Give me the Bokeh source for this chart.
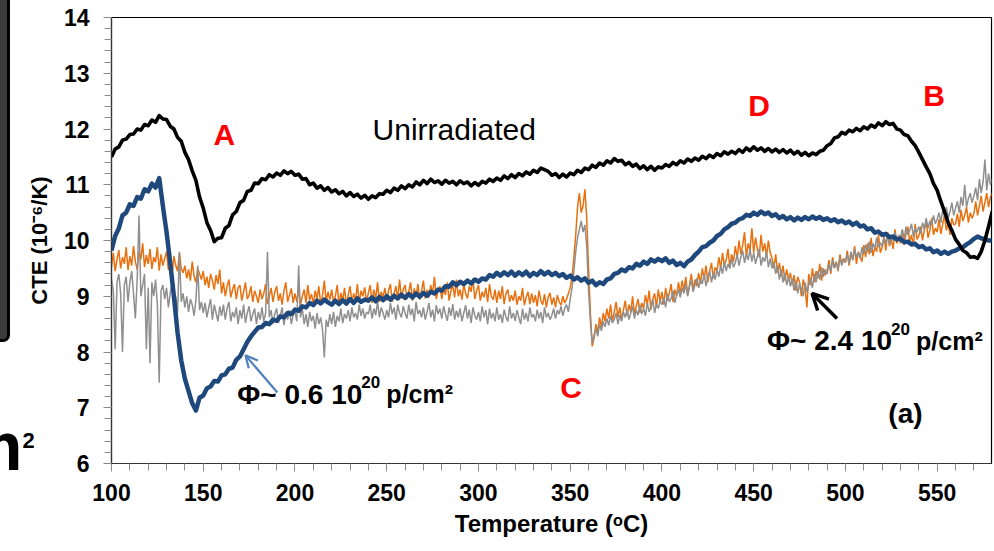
from bokeh.plotting import figure
from bokeh.layouts import row
from bokeh.models import (Range1d, SingleIntervalTicker, Label, Arrow, OpenHead,
                          ColumnDataSource, Div)
from bokeh.embed import file_html
from bokeh.resources import INLINE

# ---------------- data ----------------
temperature_2 = list(range(100, 581, 2))   # °C, 2-degree sampling (black, blue)
temperature_1 = list(range(100, 581, 1))   # °C, 1-degree sampling (orange, gray)

unirradiated = [
    11.50, 11.64, 11.68, 11.80, 11.82, 11.90, 11.91, 12.00, 11.98, 12.08,
    12.06, 12.16, 12.12, 12.24, 12.18, 12.17, 12.05, 12.00, 11.85, 11.78,
    11.58, 11.45, 11.25, 11.08, 10.78, 10.58, 10.32, 10.18, 9.98, 10.04,
    10.05, 10.22, 10.27, 10.46, 10.52, 10.68, 10.72, 10.88, 10.90, 11.03,
    11.02, 11.11, 11.09, 11.18, 11.14, 11.21, 11.17, 11.25, 11.20, 11.24,
    11.17, 11.19, 11.10, 11.11, 11.00, 11.03, 10.94, 10.98, 10.90, 10.95,
    10.87, 10.91, 10.84, 10.88, 10.80, 10.86, 10.79, 10.83, 10.76, 10.81,
    10.74, 10.80, 10.77, 10.84, 10.83, 10.90, 10.86, 10.94, 10.90, 10.98,
    10.93, 11.00, 10.96, 11.05, 11.00, 11.08, 11.02, 11.10, 11.04, 11.07,
    11.01, 11.08, 11.03, 11.06, 11.00, 11.07, 11.02, 11.05, 10.98, 11.04,
    10.99, 11.06, 11.03, 11.10, 11.06, 11.12, 11.08, 11.16, 11.11, 11.18,
    11.13, 11.20, 11.16, 11.23, 11.19, 11.26, 11.22, 11.30, 11.27, 11.24,
    11.17, 11.20, 11.13, 11.19, 11.14, 11.21, 11.18, 11.26, 11.22, 11.30,
    11.27, 11.35, 11.31, 11.39, 11.35, 11.43, 11.39, 11.47, 11.42, 11.44,
    11.36, 11.40, 11.33, 11.37, 11.29, 11.34, 11.27, 11.33, 11.26, 11.32,
    11.30, 11.36, 11.33, 11.40, 11.36, 11.43, 11.39, 11.46, 11.42, 11.48,
    11.44, 11.51, 11.47, 11.53, 11.49, 11.56, 11.52, 11.59, 11.55, 11.60,
    11.56, 11.63, 11.58, 11.66, 11.61, 11.68, 11.62, 11.66, 11.60, 11.65,
    11.59, 11.64, 11.58, 11.63, 11.57, 11.62, 11.55, 11.60, 11.53, 11.58,
    11.52, 11.57, 11.54, 11.60, 11.62, 11.70, 11.74, 11.84, 11.86, 11.94,
    11.91, 11.98, 11.95, 12.01, 11.97, 12.04, 12.00, 12.07, 12.03, 12.11,
    12.06, 12.13, 12.08, 12.10, 12.00, 11.98, 11.90, 11.88, 11.78, 11.70,
    11.58, 11.45, 11.32, 11.20, 11.02, 10.90, 10.70, 10.52, 10.32, 10.18,
    10.02, 9.93, 9.82, 9.78, 9.70, 9.71, 9.68, 9.80, 10.00, 10.25,
    10.52,
]

phi_06 = [
    9.82, 10.08, 10.22, 10.45, 10.50, 10.65, 10.62, 10.78, 10.75, 10.92,
    10.88, 11.02, 10.95, 11.12, 10.62, 10.15, 9.60, 9.00, 8.35, 7.85,
    7.52, 7.30, 7.08, 6.95, 7.18, 7.22, 7.35, 7.38, 7.48, 7.47,
    7.58, 7.60, 7.70, 7.72, 7.86, 7.92, 8.05, 8.18, 8.28, 8.36,
    8.44, 8.45, 8.52, 8.50, 8.58, 8.56, 8.64, 8.62, 8.70, 8.68,
    8.76, 8.74, 8.82, 8.80, 8.88, 8.84, 8.92, 8.87, 8.94, 8.89,
    8.85, 8.92, 8.86, 8.93, 8.87, 8.95, 8.88, 8.96, 8.90, 8.94,
    8.92, 8.98, 8.91, 8.99, 8.93, 9.00, 8.94, 9.01, 8.96, 9.03,
    8.97, 9.04, 8.98, 9.05, 8.99, 9.06, 9.01, 9.08, 9.05, 9.12,
    9.10, 9.18, 9.17, 9.25, 9.20, 9.26, 9.22, 9.28, 9.23, 9.30,
    9.26, 9.32, 9.30, 9.38, 9.35, 9.42, 9.37, 9.43, 9.38, 9.44,
    9.37, 9.43, 9.38, 9.44, 9.36, 9.42, 9.38, 9.45, 9.39, 9.44,
    9.38, 9.42, 9.36, 9.40, 9.33, 9.37, 9.30, 9.34, 9.28, 9.32,
    9.24, 9.28, 9.20, 9.25, 9.22, 9.30, 9.32, 9.40, 9.42, 9.48,
    9.45, 9.52, 9.50, 9.58, 9.55, 9.62, 9.58, 9.66, 9.62, 9.67,
    9.63, 9.68, 9.60, 9.64, 9.56, 9.60, 9.54, 9.62, 9.66, 9.74,
    9.80, 9.88, 9.90, 9.96, 10.00, 10.08, 10.12, 10.20, 10.24, 10.30,
    10.32, 10.38, 10.40, 10.46, 10.44, 10.50, 10.46, 10.52, 10.47, 10.50,
    10.44, 10.47, 10.40, 10.44, 10.38, 10.42, 10.36, 10.41, 10.37, 10.42,
    10.38, 10.43, 10.39, 10.42, 10.37, 10.40, 10.35, 10.38, 10.33, 10.36,
    10.31, 10.34, 10.28, 10.32, 10.25, 10.27, 10.20, 10.22, 10.14, 10.16,
    10.10, 10.12, 10.06, 10.07, 10.02, 10.03, 9.97, 9.98, 9.93, 9.94,
    9.88, 9.90, 9.84, 9.86, 9.79, 9.82, 9.76, 9.80, 9.76, 9.80,
    9.82, 9.86, 9.88, 9.93, 9.97, 10.03, 10.07, 10.04, 10.02, 10.00,
    10.00,
]

phi_24_orange = [
    9.52, 9.78, 9.45, 9.66, 9.83, 9.50, 9.70, 9.58, 9.88, 9.47,
    9.72, 9.55, 9.90, 9.62, 9.48, 9.80, 9.66, 9.95, 9.52, 9.74,
    9.58, 9.85, 9.49, 9.70, 9.61, 9.88, 9.46, 9.75, 9.55, 9.68,
    9.80, 9.47, 9.62, 9.38, 9.72, 9.55, 9.45, 9.78, 9.50, 9.42,
    9.55, 9.32, 9.48, 9.28, 9.62, 9.36, 9.25, 9.50, 9.40, 9.30,
    9.45, 9.20, 9.35, 9.15, 9.40, 9.28, 9.12, 9.38, 9.22, 9.48,
    9.05, 9.25, 9.00, 9.18, 9.30, 8.98, 9.12, 9.22, 8.95, 9.15,
    9.20, 8.92, 9.08, 9.25, 8.95, 9.02, 9.18, 8.90, 9.10, 9.00,
    8.88, 9.12, 8.95, 9.05, 9.22, 8.86, 9.00, 9.15, 8.90, 9.08,
    9.18, 8.92, 9.05, 8.85, 9.10, 9.25, 8.90, 9.02, 9.14, 8.88,
    9.05, 8.90, 9.15, 8.84, 9.00, 9.12, 8.88, 9.20, 8.93, 9.04,
    8.86, 9.10, 8.95, 9.18, 8.85, 9.02, 9.28, 8.90, 9.08, 8.94,
    9.12, 8.88, 9.00, 9.20, 8.86, 9.06, 8.92, 9.15, 8.84, 9.02,
    9.18, 8.90, 9.05, 8.92, 9.22, 8.88, 9.10, 9.00, 9.16, 8.90,
    9.06, 9.20, 8.88, 9.12, 8.95, 9.25, 8.90, 9.08, 8.98, 9.15,
    8.92, 9.10, 9.22, 8.90, 9.05, 9.18, 8.94, 9.30, 8.96, 9.12,
    9.20, 8.95, 9.08, 9.25, 8.92, 9.14, 9.00, 9.22, 8.94, 9.10,
    9.28, 8.96, 9.12, 8.98, 9.20, 9.05, 9.35, 8.95, 9.10, 9.18,
    8.95, 9.15, 9.02, 9.25, 8.92, 9.10, 9.20, 8.98, 9.30, 9.00,
    9.12, 8.94, 9.22, 9.05, 8.96, 9.18, 9.08, 9.32, 8.95, 9.10,
    9.20, 8.92, 9.08, 8.98, 9.15, 8.90, 9.22, 9.00, 8.94, 9.12,
    8.88, 9.10, 8.95, 9.18, 8.86, 9.05, 9.12, 8.90, 9.02, 8.92,
    9.10, 8.85, 9.00, 8.92, 9.15, 8.84, 8.98, 9.08, 8.86, 9.05,
    8.88, 9.02, 8.82, 9.10, 8.92, 8.85, 9.04, 8.80, 8.98, 9.06,
    8.85, 8.98, 8.80, 9.02, 8.90, 8.84, 9.00, 8.88, 8.95, 9.05,
    9.15, 9.35, 9.70, 10.10, 10.60, 10.85, 10.50, 10.62, 10.92, 10.40,
    9.50, 8.70, 8.10, 8.25, 8.50, 8.35, 8.62, 8.45, 8.70, 8.55,
    8.78, 8.60, 8.85, 8.55, 8.72, 8.90, 8.62, 8.80, 8.58, 8.75,
    8.92, 8.65, 8.85, 8.72, 9.00, 8.68, 8.82, 8.95, 8.70, 8.88,
    8.78, 9.02, 8.85, 9.10, 8.76, 8.95, 9.05, 8.80, 9.12, 8.90,
    9.08, 8.85, 9.15, 8.92, 9.05, 9.22, 8.90, 9.12, 9.00, 9.25,
    9.05, 9.28, 9.10, 9.35, 9.02, 9.20, 9.40, 9.12, 9.30, 9.18,
    9.42, 9.22, 9.50, 9.30, 9.55, 9.25, 9.45, 9.60, 9.32, 9.52,
    9.45, 9.70, 9.50, 9.78, 9.55, 9.65, 9.85, 9.52, 9.75, 9.62,
    9.90, 9.68, 10.00, 9.75, 9.92, 10.15, 9.70, 9.95, 9.82, 10.22,
    9.78, 10.05, 9.85, 9.70, 10.10, 9.80, 9.95, 9.72, 10.00, 9.78,
    9.68, 9.50, 9.75, 9.42, 9.60, 9.35, 9.55, 9.28, 9.48, 9.30,
    9.42, 9.20, 9.38, 9.10, 9.35, 9.25, 9.00, 9.30, 9.15, 8.80,
    9.40, 9.20, 9.50, 9.25, 9.45, 9.32, 9.58, 9.28, 9.50, 9.38,
    9.45, 9.65, 9.40, 9.70, 9.52, 9.62, 9.45, 9.75, 9.58, 9.68,
    9.60, 9.82, 9.55, 9.78, 9.65, 9.90, 9.58, 9.80, 9.70, 9.62,
    9.92, 9.70, 9.95, 9.75, 10.05, 9.72, 9.88, 9.80, 10.10, 9.78,
    9.88, 10.08, 9.82, 10.15, 9.90, 10.02, 9.85, 10.20, 9.95, 10.05,
    9.95, 10.18, 9.92, 10.12, 10.25, 9.98, 10.10, 9.90, 10.30, 10.02,
    10.08, 10.25, 10.00, 10.20, 10.35, 10.05, 10.18, 10.40, 10.10, 10.22,
    10.15, 10.38, 10.12, 10.30, 10.45, 10.18, 10.32, 10.10, 10.40, 10.28,
    10.30, 10.48, 10.25, 10.55, 10.35, 10.45, 10.60, 10.32, 10.50, 10.40,
    10.48, 10.70, 10.45, 10.62, 10.80, 10.52, 10.68, 10.85, 10.60, 10.78,
    10.85,
]

phi_24_gray = [
    9.30, 9.10, 8.05, 9.25, 9.40, 9.05, 8.00, 9.20, 9.35, 8.90,
    9.25, 9.45, 9.05, 8.60, 9.30, 10.45, 9.00, 9.20, 9.40, 8.05,
    9.15, 7.80, 9.25, 9.00, 9.30, 8.85, 7.45, 9.10, 9.20, 8.95,
    9.15, 8.80, 9.05, 9.25, 8.85, 9.00, 8.70, 9.80, 8.90, 9.05,
    8.80, 9.00, 8.72, 8.95, 8.85, 8.65, 8.92, 9.55, 8.75, 8.90,
    8.70, 8.88, 8.62, 8.80, 8.95, 8.58, 8.85, 8.70, 8.55, 8.82,
    8.65, 8.85, 8.58, 8.78, 8.90, 8.55, 8.72, 8.62, 8.80, 8.50,
    8.75, 8.60, 8.85, 8.52, 8.70, 8.82, 8.55, 8.68, 8.78, 8.50,
    8.72, 8.58, 8.80, 8.55, 8.70, 9.80, 8.62, 8.75, 8.50, 8.68,
    8.78, 8.52, 8.65, 8.80, 8.48, 8.70, 8.58, 8.75, 8.50, 8.66,
    8.72, 8.55, 9.55, 8.62, 8.78, 8.50, 8.68, 8.45, 8.72, 8.55,
    8.65, 8.42, 8.70, 8.50, 8.62, 8.40, 7.90, 8.58, 8.45, 8.68,
    8.50, 8.72, 8.45, 8.65, 8.55, 8.78, 8.52, 8.68, 8.60, 8.75,
    8.55, 8.80, 8.62, 8.70, 8.58, 8.85, 8.65, 8.78, 8.60, 8.72,
    8.68, 8.85, 8.60, 8.78, 8.66, 8.90, 8.62, 8.80, 8.70, 8.58,
    8.75, 8.62, 8.88, 8.68, 8.80, 8.58, 8.85, 8.70, 8.62, 8.82,
    8.70, 8.60, 8.85, 8.66, 8.78, 8.55, 8.90, 8.68, 8.75, 8.62,
    8.80, 8.58, 8.72, 8.88, 8.62, 8.76, 8.55, 8.84, 8.68, 8.78,
    8.60, 8.82, 8.68, 8.56, 8.80, 8.65, 8.86, 8.58, 8.74, 8.62,
    8.78, 8.55, 8.70, 8.84, 8.60, 8.76, 8.52, 8.80, 8.66, 8.58,
    8.72, 8.55, 8.82, 8.62, 8.75, 8.50, 8.78, 8.60, 8.70, 8.55,
    8.80, 8.58, 8.68, 8.52, 8.76, 8.62, 8.55, 8.82, 8.60, 8.70,
    8.56, 8.75, 8.62, 8.50, 8.78, 8.58, 8.70, 8.55, 8.80, 8.62,
    8.68, 8.55, 8.76, 8.60, 8.72, 8.52, 8.80, 8.62, 8.70, 8.58,
    8.66, 8.78, 8.60, 8.75, 8.68, 8.82, 8.65, 8.78, 8.85, 8.72,
    8.95, 9.15, 9.45, 9.80, 10.05, 10.20, 10.35, 10.15, 10.28, 9.90,
    9.10, 8.55, 8.15, 8.30, 8.42, 8.28, 8.50, 8.38, 8.55, 8.45,
    8.60, 8.48, 8.65, 8.52, 8.58, 8.70, 8.50, 8.66, 8.55, 8.72,
    8.62, 8.76, 8.58, 8.70, 8.82, 8.60, 8.75, 8.66, 8.85, 8.68,
    8.78, 8.65, 8.88, 8.72, 8.82, 8.95, 8.70, 8.86, 8.78, 8.92,
    8.85, 8.98, 8.80, 9.05, 8.90, 8.96, 9.10, 8.88, 9.02, 9.12,
    8.98, 9.15, 9.05, 9.22, 9.00, 9.18, 9.28, 9.08, 9.20, 9.32,
    9.15, 9.30, 9.22, 9.40, 9.18, 9.35, 9.45, 9.25, 9.42, 9.30,
    9.48, 9.35, 9.55, 9.40, 9.62, 9.45, 9.58, 9.50, 9.68, 9.52,
    9.60, 9.75, 9.55, 9.70, 9.82, 9.60, 9.76, 9.65, 9.85, 9.62,
    9.78, 9.58, 9.72, 9.85, 9.55, 9.70, 9.62, 9.80, 9.52, 9.68,
    9.50, 9.62, 9.40, 9.55, 9.30, 9.48, 9.25, 9.42, 9.20, 9.35,
    9.18, 9.32, 9.10, 9.28, 9.05, 9.22, 9.12, 9.00, 9.25, 9.08,
    9.20, 9.32, 9.15, 9.40, 9.25, 9.45, 9.30, 9.52, 9.35, 9.48,
    9.40, 9.58, 9.45, 9.65, 9.50, 9.60, 9.48, 9.70, 9.55, 9.66,
    9.62, 9.75, 9.58, 9.80, 9.65, 9.85, 9.70, 9.78, 9.68, 9.88,
    9.75, 9.92, 9.80, 9.98, 9.78, 9.95, 9.85, 10.05, 9.88, 9.96,
    9.90, 10.05, 9.95, 10.12, 9.92, 10.08, 10.00, 10.15, 9.98, 10.10,
    10.05, 10.20, 10.02, 10.25, 10.10, 10.18, 10.30, 10.08, 10.22, 10.15,
    10.25, 10.12, 10.32, 10.20, 10.40, 10.22, 10.35, 10.28, 10.45, 10.30,
    10.38, 10.50, 10.32, 10.55, 10.42, 10.60, 10.40, 10.52, 10.68, 10.45,
    10.58, 10.70, 10.50, 10.78, 10.62, 11.00, 10.60, 10.75, 10.85, 10.68,
    10.80, 10.95, 10.72, 11.10, 10.85, 11.05, 11.45, 10.90, 11.20, 11.00,
    11.10,
]

assert len(unirradiated) == len(temperature_2) and len(phi_06) == len(temperature_2)
assert len(phi_24_orange) == len(temperature_1) and len(phi_24_gray) == len(temperature_1)

x_tick_interval = 50
y_tick_interval = 1

# ---------------- styles ----------------
NARROW = "'Liberation Sans Narrow', 'Arial Narrow', 'Liberation Sans', sans-serif"
SANS = "'Liberation Sans', Arial, sans-serif"
RED = "#ff0000"

# ---- overlay at the left edge: fragments of the neighbouring panel (cropped in the reference) ----
strip_html = (
    '<div style="position:relative;width:34px;height:551px;overflow:hidden;margin:0;padding:0">'
    '<div style="position:absolute;left:0;top:0;width:10px;height:342px;background:#3c3c3c;'
    'border-right:3px solid #000;border-bottom:3px solid #000;border-bottom-right-radius:7px"></div>'
    '<div style="position:absolute;left:-38px;top:412px;line-height:68px;white-space:nowrap;'
    "font-family:'Liberation Sans',Arial,sans-serif;font-weight:bold;font-size:68px;color:#000\">"
    'm<span style="font-size:22px;position:relative;top:-22px">2</span></div>'
    '</div>'
)
strip = Div(text=strip_html, width=34, height=551, margin=0,
            styles={"position": "absolute", "left": "0px", "top": "0px",
                    "z-index": "10", "overflow": "hidden"})

# ---- main chart ----
p = figure(width=994, height=551, output_backend="svg", toolbar_location=None,
           x_range=Range1d(100, 579.6), y_range=Range1d(6, 14),
           min_border_left=111, min_border_right=3, min_border_top=17,
           min_border_bottom=88, margin=0)
p.background_fill_color = "white"
p.border_fill_color = "white"
p.outline_line_color = "black"
p.outline_line_width = 1.2
p.xgrid.visible = False
p.ygrid.visible = False

for ax in (p.xaxis[0], p.yaxis[0]):
    ax.axis_line_color = "#333333"
    ax.axis_line_width = 1.2
    ax.major_tick_line_color = "#8a8a8a"
    ax.minor_tick_line_color = "#8a8a8a"
    ax.major_tick_in = 0
    ax.minor_tick_in = 0
    ax.major_tick_out = 8
    ax.minor_tick_out = 7
    ax.major_label_text_font = NARROW
    ax.major_label_text_font_style = "bold"
    ax.major_label_text_font_size = "23px"
    ax.major_label_text_color = "black"
    ax.axis_label_text_font = NARROW
    ax.axis_label_text_font_style = "bold"
    ax.axis_label_text_color = "black"

p.xaxis.ticker = SingleIntervalTicker(interval=x_tick_interval, num_minor_ticks=5)
p.yaxis.ticker = SingleIntervalTicker(interval=y_tick_interval, num_minor_ticks=5)
p.xaxis.major_label_standoff = 12
p.yaxis.major_label_standoff = 14
p.xaxis.axis_label = "Temperature (ᵒC)"
p.xaxis.axis_label_text_font_size = "24px"
p.xaxis.axis_label_standoff = 6
p.yaxis.axis_label = "CTE (10⁻⁶/K)"
p.yaxis.axis_label_text_font_size = "22px"
p.yaxis.axis_label_standoff = 9

src2 = ColumnDataSource(dict(t=temperature_2, u=unirradiated, b=phi_06))
src1 = ColumnDataSource(dict(t=temperature_1, o=phi_24_orange, g=phi_24_gray))
p.line("t", "o", source=src1, line_color="#e8700e", line_width=1.5)
p.line("t", "g", source=src1, line_color="#8f8f8f", line_width=1.5)
p.line("t", "b", source=src2, line_color="#1f497d", line_width=4.5, line_join="round")
p.line("t", "u", source=src2, line_color="black", line_width=3.6, line_join="round")

# ---------------- annotations ----------------
def lab(x, y, text, size, color="black", font=SANS, style="bold", align="center", **kw):
    p.add_layout(Label(x=x, y=y, text=text, text_font=font, text_font_size=size,
                       text_font_style=style, text_color=color, text_align=align,
                       text_baseline="alphabetic", **kw))

lab(161.5, 11.90, "A", "30px", RED)
lab(452.9, 12.42, "D", "30px", RED)
lab(548.3, 12.60, "B", "30px", RED)
lab(350.5, 7.36, "C", "30px", RED)
lab(286.8, 11.99, "Unirradiated", "30px", style="normal")

# fluence labels: "Φ~ x.x 10" + superscript "20" + "p/cm²"
for x0, y0, txt in ((168.6, 7.24, "Φ~ 0.6 10"), (457.3, 8.20, "Φ~ 2.4 10")):
    lab(x0, y0, txt, "28px", font=NARROW, align="left")
    lab(x0, y0, "20", "17px", font=NARROW, align="left", x_offset=124, y_offset=12)
    lab(x0, y0, "p/cm²", "25px", font=NARROW, align="left", x_offset=149)

lab(532.7, 6.89, "(a)", "28px", font=NARROW)

p.add_layout(Arrow(x_start=190.4, y_start=7.275, x_end=173.0, y_end=7.94,
                   line_color="#4f81bd", line_width=2.2,
                   end=OpenHead(size=12, line_color="#4f81bd", line_width=2.2)))
p.add_layout(Arrow(x_start=495.4, y_start=8.60, x_end=481.8, y_end=9.05,
                   line_color="black", line_width=3.5,
                   end=OpenHead(size=16, line_color="black", line_width=3.5)))

layout = row(p, strip, spacing=0, margin=0)
open("out.html", "w").write(file_html(layout, INLINE))
